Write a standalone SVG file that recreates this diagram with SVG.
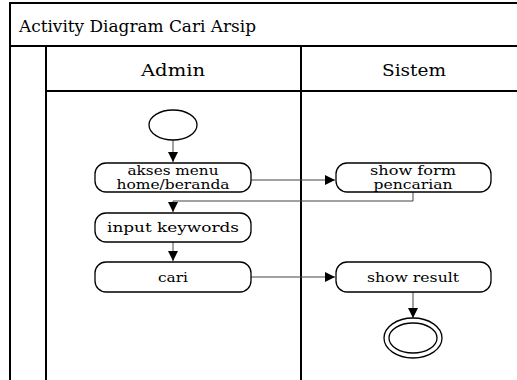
<svg xmlns="http://www.w3.org/2000/svg" width="517" height="380" viewBox="0 0 517 380">
<style>
.frame{fill:none;stroke:#000;stroke-width:2}
.act{fill:#fff;stroke:#000;stroke-width:1.3}
.t{font-family:"DejaVu Serif","Liberation Serif","Times New Roman",serif;fill:#000;text-anchor:middle}
.lbl{font-size:13px}
.hdr{font-size:16px}
.ttl{font-size:16px;text-anchor:start}
.con{fill:none;stroke:#444;stroke-width:1}
</style>
<defs>
<marker id="ah" viewBox="0 0 10 10" refX="10" refY="5" markerWidth="10" markerHeight="10" markerUnits="userSpaceOnUse" orient="auto">
<path d="M0,0 L10,5 L0,10 Z" fill="#000"/>
</marker>
</defs>
<g id="frame">
<path class="frame" d="M10,380 V3 H517 M10,46 H517 M46,91 H517 M46,46 V380 M301,46 V380"/>
<text class="t ttl" x="19" y="32" textLength="237" lengthAdjust="spacingAndGlyphs">Activity Diagram Cari Arsip</text>
<text class="t hdr" x="173" y="76" textLength="64" lengthAdjust="spacingAndGlyphs">Admin</text>
<text class="t hdr" x="414" y="76" textLength="64" lengthAdjust="spacingAndGlyphs">Sistem</text>
</g>
<g id="connectors">
<path class="con" d="M173,140 V162" marker-end="url(#ah)"/>
<path class="con" d="M251,180 H335" marker-end="url(#ah)"/>
<path class="con" d="M413,192 V201 H173 V212" marker-end="url(#ah)"/>
<path class="con" d="M173,242 V261" marker-end="url(#ah)"/>
<path class="con" d="M251,277 H335" marker-end="url(#ah)"/>
<path class="con" d="M413,292 V318" marker-end="url(#ah)"/>
</g>
<g id="start"><ellipse cx="173" cy="125" rx="24" ry="15" fill="#fff" stroke="#000" stroke-width="1.3"/></g>
<g id="akses">
<rect class="act" x="95" y="163" width="156" height="29" rx="11"/>
<text class="t lbl" x="173" y="175" textLength="91" lengthAdjust="spacingAndGlyphs">akses menu</text>
<text class="t lbl" x="173" y="189" textLength="113" lengthAdjust="spacingAndGlyphs">home/beranda</text>
</g>
<g id="showform">
<rect class="act" x="336" y="163" width="155" height="29" rx="11"/>
<text class="t lbl" x="413" y="175" textLength="86" lengthAdjust="spacingAndGlyphs">show form</text>
<text class="t lbl" x="413" y="189" textLength="79" lengthAdjust="spacingAndGlyphs">pencarian</text>
</g>
<g id="input">
<rect class="act" x="95" y="213" width="156" height="29" rx="11"/>
<text class="t lbl" x="173" y="232" textLength="132" lengthAdjust="spacingAndGlyphs">input keywords</text>
</g>
<g id="cari">
<rect class="act" x="95" y="262" width="156" height="30" rx="11"/>
<text class="t lbl" x="173" y="282" textLength="30" lengthAdjust="spacingAndGlyphs">cari</text>
</g>
<g id="showresult">
<rect class="act" x="336" y="262" width="155" height="30" rx="11"/>
<text class="t lbl" x="413" y="282" textLength="92" lengthAdjust="spacingAndGlyphs">show result</text>
</g>
<g id="end">
<ellipse cx="413" cy="338" rx="29" ry="20" fill="#fff" stroke="#000" stroke-width="1.3"/>
<ellipse cx="413" cy="338" rx="24" ry="15" fill="#fff" stroke="#000" stroke-width="1.3"/>
</g>
</svg>
